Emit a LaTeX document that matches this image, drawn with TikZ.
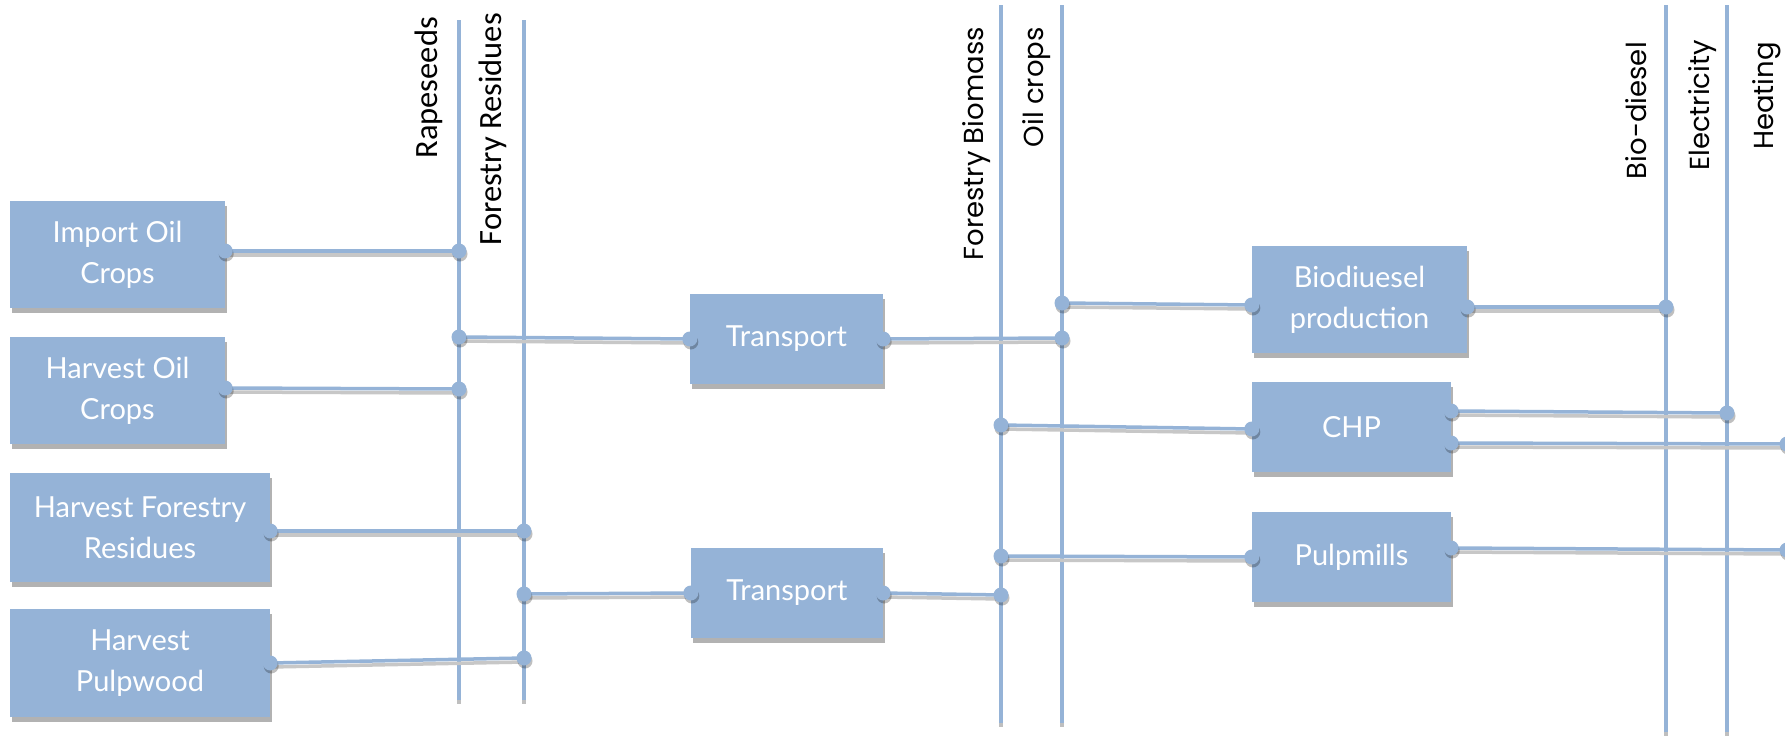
\documentclass[tikz,border=0pt]{standalone}
\usepackage{fontspec}
\newfontfamily\boxfont{Lato}
\newfontfamily\labfont{Poppins}
\newfontfamily\calfont{Carlito}
\usetikzlibrary{shadows}
\definecolor{steel}{HTML}{95B3D7}
\begin{document}
\begin{tikzpicture}[x=1pt,y=-1pt,
  box/.style={fill=steel, draw=none, text=white, align=center,
    font=\boxfont\fontsize{29}{41}\selectfont, inner sep=0pt,
    drop shadow={shadow xshift=2pt, shadow yshift=-5pt, opacity=0.3, fill=black}},
  vline/.style={draw=steel, line width=3.5pt,
    preaction={draw=black!25, line width=3.5pt, transform canvas={yshift=-4pt}}},
  conn/.style={draw=steel, line width=3.5pt,
    preaction={draw=black!22, line width=3.5pt, transform canvas={yshift=-4pt}}},
  dotn/.style={circle, fill=steel, draw=none, inner sep=0pt, minimum size=15pt,
    drop shadow={shadow xshift=1pt, shadow yshift=-3pt, opacity=0.25, fill=black}},
  lab/.style={rotate=90, anchor=base east, inner sep=0pt, text=black,
    font=\labfont\fontsize{27.5}{30}\selectfont},
  clab/.style={rotate=90, anchor=base east, inner sep=0pt, text=black,
    font=\calfont\fontsize{32.5}{36}\selectfont}
]
\fill[white] (0,0) rectangle (1785,739);
\useasboundingbox (0,0) rectangle (1785,739);

% boxes
\node[box, minimum width=215pt, minimum height=107pt] (imp) at (117.5,254.5) {Import Oil\\Crops};
\node[box, minimum width=215pt, minimum height=107pt] (hoc) at (117.5,390.5) {Harvest Oil\\Crops};
\node[box, minimum width=260pt, minimum height=109pt] (hfr) at (140,527.5) {Harvest Forestry\\Residues};
\node[box, minimum width=260pt, minimum height=108pt] (hpw) at (140,663) {Harvest\\Pulpwood};
\node[box, minimum width=193pt, minimum height=90pt] (tr1) at (786.5,339) {Transport};
\node[box, minimum width=192pt, minimum height=90pt] (tr2) at (787,593) {Transport};
\node[box, minimum width=215pt, minimum height=107pt] (bio) at (1359.5,299.5) {Biodiuesel\\production};
\node[box, minimum width=199pt, minimum height=90pt] (chp) at (1351.5,427) {CHP};
\node[box, minimum width=199pt, minimum height=90pt] (pulp) at (1351.5,557) {Pulpmills};

% box ports
\coordinate (impE) at ([yshift=3.5pt]imp.east);
\coordinate (hocE) at ([yshift=2.5pt]hoc.east);
\coordinate (hfrE) at ([yshift=-3.5pt]hfr.east);
\coordinate (hpwE) at (hpw.east);
\coordinate (tr1W) at (tr1.west); \coordinate (tr1E) at (tr1.east);
\coordinate (tr2W) at (tr2.west); \coordinate (tr2E) at (tr2.east);
\coordinate (bioW) at ([yshift=-5.5pt]bio.west);
\coordinate (bioE) at ([yshift=-7.5pt]bio.east);
\coordinate (chpW) at ([yshift=-2pt]chp.west);
\coordinate (chpE1) at ([yshift=16pt]chp.east);
\coordinate (chpE2) at ([yshift=-16pt]chp.east);
\coordinate (pulpW) at (pulp.west);
\coordinate (pulpE) at ([yshift=9pt]pulp.east);

% vertical lines
\coordinate (rapeT) at (459,20);   \coordinate (rapeB) at (459,700);
\coordinate (fresT) at (524,20);   \coordinate (fresB) at (524,700);
\coordinate (fbioT) at (1001,5);   \coordinate (fbioB) at (1001,723);
\coordinate (oilcT) at (1062,5);   \coordinate (oilcB) at (1062,723);
\coordinate (bdslT) at (1666,5);   \coordinate (bdslB) at (1666,732);
\coordinate (elecT) at (1727,5);   \coordinate (elecB) at (1727,732);
\coordinate (heatT) at (1787,5);   \coordinate (heatB) at (1787,732);
\foreach \l in {rape,fres,fbio,oilc,bdsl,elec,heat}
  \draw[vline] (\l T) -- (\l B);

% labels
\node[clab] (lrape) at (437,17) {Rapeseeds};
\node[clab] (lfres) at (501,13) {Forestry Residues};
\node[lab] (lfbio) at (983,27) {Forestry Biomass};
\node[lab] (loilc) at (1043,27) {Oil crops};
\node[lab] (lbdsl) at (1646,42) {Bio-diesel};
\node[lab] (lelec) at (1709,40) {Electricity};
\node[lab] (lheat) at (1773,42) {Heating};

% points on lines
\coordinate (ra1) at (459,251); \coordinate (ra2) at (459,337); \coordinate (ra3) at (459,389);
\coordinate (fr1) at (524,531); \coordinate (fr2) at (524,594); \coordinate (fr3) at (524,658);
\coordinate (fb1) at (1001,425); \coordinate (fb2) at (1001,556); \coordinate (fb3) at (1001,595);
\coordinate (oc1) at (1062,303); \coordinate (oc2) at (1062,338);
\coordinate (bd1) at (1666,307);
\coordinate (el1) at (1727,413);
\coordinate (he1) at (1787,444); \coordinate (he2) at (1787,550);

% connectors
\foreach \a/\b in {impE/ra1, ra2/tr1W, hocE/ra3, hfrE/fr1, fr2/tr2W, hpwE/fr3,
  tr1E/oc2, oc1/bioW, fb1/chpW, fb2/pulpW, tr2E/fb3, bioE/bd1,
  chpE1/el1, chpE2/he1, pulpE/he2}
  \draw[conn] (\a) -- (\b) node[dotn, pos=0] {} node[dotn, pos=1] {};
\end{tikzpicture}
\end{document}
